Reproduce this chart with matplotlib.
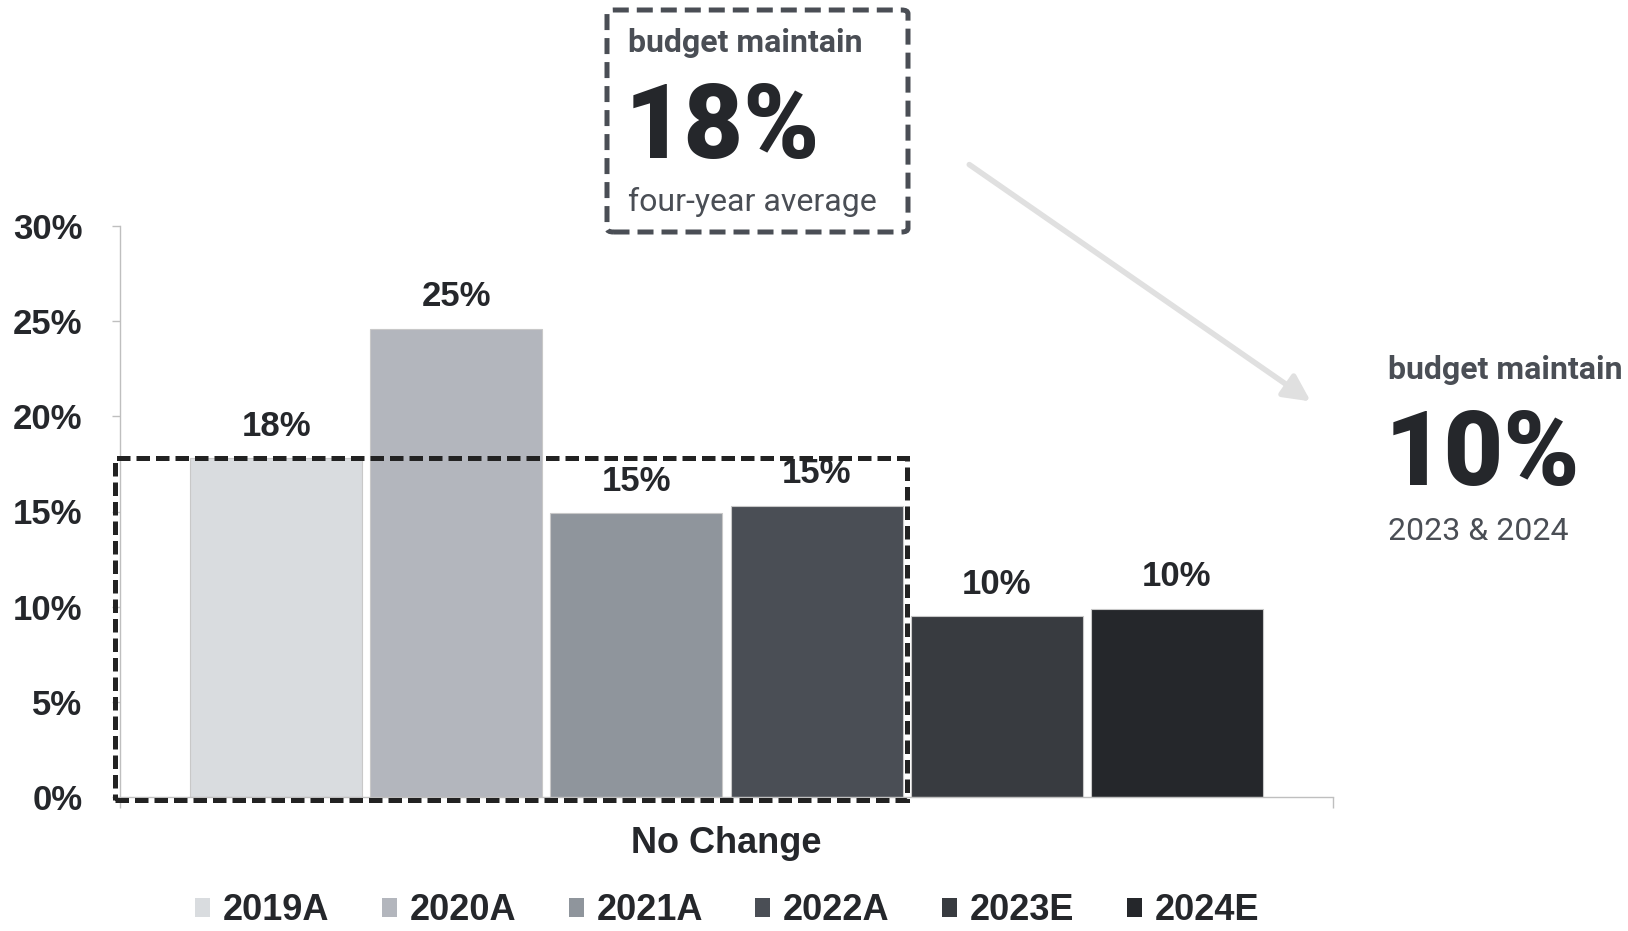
import matplotlib.pyplot as plt
from matplotlib.patches import Rectangle, FancyBboxPatch, FancyArrowPatch, Patch

# survey share answering "no change" for each year
years = ["2019A", "2020A", "2021A", "2022A", "2023E", "2024E"]
no_change = [17.8, 24.6, 14.9, 15.3, 9.5, 9.9]
bar_colors = ["#d9dcdf", "#b3b6bd", "#8f959c", "#4a4e55", "#383b40", "#25272b"]
y_ticks = [0, 5, 10, 15, 20, 25, 30]

W, H = 1628, 931
DARK = "#25272b"
GREY_TXT = "#4a4e55"
AXIS = "#bfbfbf"
LAB_FONT = ["Liberation Sans", "DejaVu Sans"]
CALLOUT_FONT = ["Roboto", "DejaVu Sans"]


def fx(px):
    return px / W


def fy(py):
    return 1 - py / H


fig = plt.figure(figsize=(W / 100, H / 100), dpi=100)
ax = fig.add_axes([fx(120), fy(797), fx(1333) - fx(120), fy(226) - fy(797)])

n = len(years)
xs = [i - (n - 1) / 2 for i in range(n)]
half_span = (n - 1) / 2 + 0.867
bars = ax.bar(xs, no_change, width=0.955, color=bar_colors,
              edgecolor="#c8c8c8", linewidth=0.8, zorder=2)

for x, v in zip(xs, no_change):
    ax.annotate(f"{v:.0f}%", (x, v), xytext=(0, 23), textcoords="offset points",
                ha="center", va="center", fontsize=25, fontweight="bold",
                family=LAB_FONT, color=DARK)

ax.set_xlim(-half_span, half_span)
ax.set_ylim(0, 30)
ax.set_yticks(y_ticks)
ax.set_yticklabels([f"{t}%" for t in y_ticks], fontsize=25, fontweight="bold",
                   family=LAB_FONT, color=DARK)
ax.tick_params(axis="y", length=6, color=AXIS, width=1, pad=21)

ax.set_xticks([0])
ax.set_xticklabels(["No Change"], fontsize=26, fontweight="bold",
                   family=LAB_FONT, color=DARK)
ax.tick_params(axis="x", which="major", length=0, pad=21)
ax.set_xticks([-half_span, half_span], minor=True)
ax.tick_params(axis="x", which="minor", length=8, color=AXIS, width=1)

for side in ("top", "right"):
    ax.spines[side].set_visible(False)
for side in ("left", "bottom"):
    ax.spines[side].set_color(AXIS)
    ax.spines[side].set_linewidth(1)

# dashed frame around the four actual years
frame_left = -half_span - 0.028
frame = Rectangle((frame_left, -0.15), 1.0 - frame_left, no_change[0] + 0.15,
                  fill=False, edgecolor="#222222", linewidth=3.6,
                  linestyle=(0, (2.7, 1.2)), clip_on=False, zorder=3)
ax.add_patch(frame)

# legend
handles = [Patch(facecolor=c, edgecolor="none") for c in bar_colors]
leg = fig.legend(handles, years, loc="center", bbox_to_anchor=(fx(727), fy(911)),
                 ncol=n, frameon=False, handlelength=0.42, handleheight=0.42,
                 handletextpad=0.35, columnspacing=1.45, borderpad=0.1,
                 prop={"family": LAB_FONT, "weight": "bold", "size": 26})
for t in leg.get_texts():
    t.set_color(DARK)

# four-year average callout
box = FancyBboxPatch((fx(607), fy(232)), fx(908) - fx(607), fy(10) - fy(232),
                     boxstyle="round,pad=0,rounding_size=0.004",
                     transform=fig.transFigure, fill=False, edgecolor=GREY_TXT,
                     linewidth=3.6, linestyle=(0, (3.2, 1.6)))
fig.patches.append(box)
fig.text(fx(628), fy(52), "budget maintain", fontsize=23, fontweight="bold",
         family=CALLOUT_FONT, color=GREY_TXT, va="baseline")
fig.text(fx(625), fy(158), "18%", fontsize=74, fontweight="black",
         family=CALLOUT_FONT, color=DARK, va="baseline")
fig.text(fx(628), fy(211), "four-year average", fontsize=23,
         family=CALLOUT_FONT, color=GREY_TXT, va="baseline")

# 2023-2024 callout
fig.text(fx(1388), fy(379), "budget maintain", fontsize=23, fontweight="bold",
         family=CALLOUT_FONT, color=GREY_TXT, va="baseline")
fig.text(fx(1385), fy(485), "10%", fontsize=74, fontweight="black",
         family=CALLOUT_FONT, color=DARK, va="baseline")
fig.text(fx(1388), fy(540), "2023 & 2024", fontsize=23,
         family=CALLOUT_FONT, color=GREY_TXT, va="baseline")

arrow = FancyArrowPatch((fx(967), fy(163)), (fx(1313), fy(403)),
                        transform=fig.transFigure, arrowstyle="-|>",
                        mutation_scale=40, linewidth=4, color="#e0e0e0")
fig.patches.append(arrow)

fig.savefig("out.png", dpi=100, facecolor="white")
